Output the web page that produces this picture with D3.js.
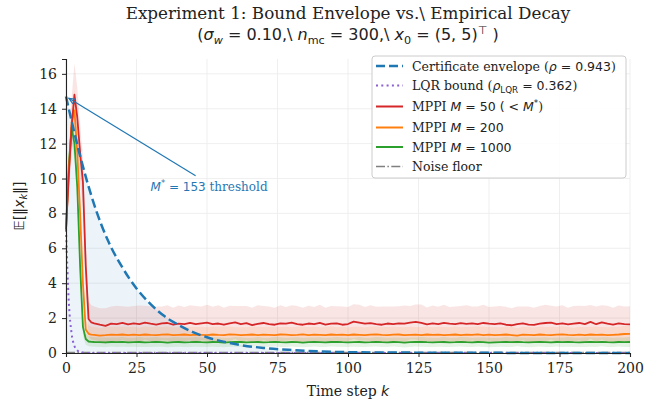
<!DOCTYPE html>
<meta charset="utf-8">
<html>
  <head>
    <title>Experiment 1</title>
    <style>
      html,body{ margin:0; padding:0; background:#fff; }
      text{ font-family: 'DejaVu Serif', serif; fill:#222; }
      .math{ font-family: 'DejaVu Sans', sans-serif; }
      .grid line{ stroke:#ebebeb; stroke-width:0.8; }
      .axis path, .axis line{ stroke:#222; }
    </style>
  </head>
  <body>
    <svg xmlns="http://www.w3.org/2000/svg"></svg>
    <script src="https://d3js.org/d3.v7.min.js"></script>
    <script type="text/javascript">
      var width = 657, height = 403;
      var margin = {left: 66, right: 27, top: 59, bottom: 50};

      // time steps: every step for the transient, every 2nd after
      var steps = d3.range(0, 11).concat(d3.range(12, 201, 2));

      var redMean = [7.07, 10.2, 13.0, 14.8, 13.5, 11.5, 9.8, 5.0, 1.95, 1.75, 1.70,
        1.62, 1.55, 1.68, 1.66, 1.72, 1.64, 1.70, 1.66, 1.74, 1.68,
        1.63, 1.70, 1.72, 1.62, 1.68, 1.66, 1.73, 1.65, 1.70, 1.74,
        1.66, 1.69, 1.62, 1.70, 1.75, 1.66, 1.71, 1.60, 1.67, 1.72,
        1.66, 1.62, 1.70, 1.68, 1.74, 1.66, 1.62, 1.69, 1.65, 1.72,
        1.63, 1.68, 1.70, 1.62, 1.66, 1.80, 1.74, 1.68, 1.71, 1.66,
        1.62, 1.69, 1.65, 1.70, 1.68, 1.74, 1.78, 1.72, 1.64, 1.70,
        1.66, 1.73, 1.68, 1.65, 1.71, 1.67, 1.70, 1.66, 1.72, 1.68,
        1.65, 1.70, 1.62, 1.59, 1.66, 1.70, 1.63, 1.61, 1.68, 1.72,
        1.74, 1.66, 1.70, 1.64, 1.68, 1.72, 1.66, 1.78, 1.65, 1.76,
        1.68, 1.63, 1.70, 1.66, 1.64];
      var redStd = [0.30, 1.2, 1.6, 1.8, 1.7, 1.6, 1.4, 1.2, 1.0, 0.98, 0.96,
        0.95, 1.02, 0.98, 1.05, 0.96, 1.01, 0.99, 1.06, 0.97, 1.00,
        1.03, 0.96, 1.01, 0.98, 1.04, 0.97, 1.00, 1.05, 0.96, 1.02,
        0.99, 1.04, 0.97, 1.01, 0.95, 1.03, 0.98, 1.00, 1.06, 0.97,
        1.01, 0.98, 1.04, 0.96, 1.00, 1.03, 0.97, 1.02, 0.99, 1.05,
        0.96, 1.01, 0.98, 1.04, 0.97, 1.00, 1.03, 0.96, 1.02, 0.99,
        1.05, 0.97, 1.01, 0.98, 1.04, 0.96, 1.00, 1.06, 0.97, 1.02,
        0.99, 1.03, 0.96, 1.01, 0.98, 1.07, 0.97, 1.00, 1.04, 0.96,
        1.02, 0.99, 1.03, 0.97, 1.00, 0.96, 1.04, 0.98, 1.01, 1.05,
        0.97, 1.00, 1.03, 0.96, 1.02, 0.99, 1.04, 0.97, 1.01, 0.98,
        1.03, 0.97, 1.02, 1.00, 1.04];

      var orangeMean = [7.07, 10.4, 13.2, 13.9, 11.5, 8.0, 4.0, 1.35, 1.10, 1.05, 1.04,
        1.00, 1.02, 1.05, 1.04, 1.06, 1.03, 1.05, 1.02, 1.06, 1.04,
        1.03, 1.05, 1.07, 1.02, 1.04, 1.06, 1.03, 1.05, 1.04, 1.02,
        1.06, 1.04, 1.03, 1.07, 1.05, 1.02, 1.04, 1.06, 1.03, 1.05,
        1.04, 1.02, 1.06, 1.05, 1.03, 1.04, 1.07, 1.03, 1.05, 1.04,
        1.02, 1.06, 1.04, 1.05, 1.03, 1.06, 1.04, 1.02, 1.05, 1.07,
        1.04, 1.03, 1.05, 1.06, 1.02, 1.04, 1.05, 1.03, 1.06, 1.04,
        1.05, 1.02, 1.04, 1.06, 1.03, 1.05, 1.04, 1.07, 1.03, 1.05,
        1.02, 1.04, 1.06, 1.03, 0.99, 1.05, 1.04, 1.02, 1.06, 1.04,
        1.03, 1.05, 1.07, 1.04, 1.02, 1.05, 1.03, 1.06, 1.04, 1.05,
        1.02, 1.04, 1.06, 1.09, 1.10];
      var orangeStd = [0.20, 0.8, 1.1, 1.2, 1.1, 1.0, 0.8, 0.55, 0.48, 0.46, 0.45,
        0.44, 0.46, 0.45, 0.47, 0.44, 0.46, 0.45, 0.43, 0.46, 0.45,
        0.47, 0.44, 0.45, 0.46, 0.43, 0.45, 0.47, 0.44, 0.46, 0.45,
        0.44, 0.46, 0.47, 0.45, 0.43, 0.46, 0.44, 0.45, 0.47, 0.44,
        0.46, 0.45, 0.43, 0.46, 0.45, 0.47, 0.44, 0.46, 0.45, 0.44,
        0.45, 0.47, 0.44, 0.46, 0.43, 0.45, 0.46, 0.44, 0.47, 0.45,
        0.44, 0.46, 0.45, 0.43, 0.46, 0.47, 0.44, 0.45, 0.46, 0.44,
        0.45, 0.47, 0.43, 0.46, 0.45, 0.44, 0.46, 0.45, 0.47, 0.44,
        0.46, 0.44, 0.45, 0.47, 0.43, 0.46, 0.45, 0.44, 0.46, 0.45,
        0.47, 0.44, 0.46, 0.45, 0.43, 0.46, 0.44, 0.45, 0.47, 0.44,
        0.46, 0.45, 0.44, 0.46, 0.45];

      var greenMean = [7.07, 10.8, 12.9, 12.0, 9.5, 5.0, 1.5, 0.80, 0.66, 0.64, 0.63,
        0.62, 0.61, 0.63, 0.62, 0.64, 0.61, 0.62, 0.63, 0.61, 0.62,
        0.64, 0.62, 0.60, 0.62, 0.63, 0.61, 0.62, 0.64, 0.62, 0.61,
        0.63, 0.62, 0.60, 0.62, 0.64, 0.63, 0.61, 0.62, 0.63, 0.61,
        0.62, 0.64, 0.62, 0.61, 0.63, 0.62, 0.60, 0.62, 0.63, 0.62,
        0.61, 0.63, 0.64, 0.62, 0.61, 0.62, 0.63, 0.61, 0.62, 0.64,
        0.62, 0.61, 0.63, 0.62, 0.60, 0.62, 0.63, 0.64, 0.62, 0.61,
        0.62, 0.63, 0.61, 0.62, 0.64, 0.62, 0.61, 0.63, 0.62, 0.60,
        0.61, 0.62, 0.63, 0.62, 0.64, 0.62, 0.61, 0.62, 0.63, 0.62,
        0.61, 0.63, 0.62, 0.64, 0.62, 0.61, 0.62, 0.63, 0.62, 0.64,
        0.62, 0.61, 0.63, 0.62, 0.63];
      var greenStd = [0.15, 0.6, 0.9, 0.9, 0.8, 0.7, 0.5, 0.32, 0.28, 0.27, 0.27,
        0.27, 0.28, 0.26, 0.27, 0.28, 0.27, 0.26, 0.28, 0.27, 0.27,
        0.28, 0.26, 0.27, 0.28, 0.27, 0.26, 0.27, 0.28, 0.27, 0.26,
        0.27, 0.28, 0.27, 0.26, 0.28, 0.27, 0.27, 0.26, 0.28, 0.27,
        0.26, 0.27, 0.28, 0.27, 0.26, 0.28, 0.27, 0.27, 0.26, 0.28,
        0.27, 0.26, 0.28, 0.27, 0.27, 0.26, 0.28, 0.27, 0.26, 0.27,
        0.28, 0.27, 0.26, 0.27, 0.28, 0.27, 0.26, 0.28, 0.27, 0.27,
        0.26, 0.28, 0.27, 0.26, 0.27, 0.28, 0.27, 0.26, 0.28, 0.27,
        0.27, 0.26, 0.28, 0.27, 0.26, 0.27, 0.28, 0.27, 0.26, 0.28,
        0.27, 0.26, 0.27, 0.28, 0.27, 0.26, 0.28, 0.27, 0.27, 0.26,
        0.28, 0.27, 0.26, 0.27, 0.28];

      // certificate envelope (rho = 0.943) read at sparse steps
      var envSteps  = [0, 5, 10, 15, 20, 25, 30, 35, 40, 45, 50, 55, 60, 70, 80, 90, 100, 125, 150, 175, 200];
      var envValues = [14.7, 11.3, 8.5, 6.4, 4.9, 3.7, 2.8, 2.1, 1.6, 1.2, 0.9, 0.68, 0.51, 0.29, 0.17, 0.09, 0.05, 0.02, 0.01, 0.0, 0.0];
      // LQR bound (rho_LQR = 0.362)
      var lqrSteps  = [0, 1, 2, 3, 4, 5, 6, 8, 200];
      var lqrValues = [7.07, 2.9, 1.1, 0.4, 0.15, 0.05, 0.02, 0.0, 0.0];
      var noiseFloor = 0.03;

      var xTicks = [0, 25, 50, 75, 100, 125, 150, 175, 200];
      var yTicks = [0, 2, 4, 6, 8, 10, 12, 14, 16];

      var blue = '#1f77b4', red = '#d62728', orange = '#ff7f0e', green = '#2ca02c',
          purple = '#8a5fd6', gray = '#808080';

      var svg = d3.select('svg').attr('width', width).attr('height', height);

      var x = d3.scaleLinear().domain([0, 200]).range([margin.left, width - margin.right]);
      var y = d3.scaleLinear().domain([0, 16.85]).range([height - margin.bottom, margin.top]);

      // grid
      var grid = svg.append('g').attr('class', 'grid');
      grid.selectAll('.gx').data(xTicks).enter().append('line')
        .attr('x1', d => x(d)).attr('x2', d => x(d))
        .attr('y1', y(0)).attr('y2', margin.top);
      grid.selectAll('.gy').data(yTicks).enter().append('line')
        .attr('x1', x(0)).attr('x2', x(200))
        .attr('y1', d => y(d)).attr('y2', d => y(d));

      var plot = svg.append('g');

      // envelope fill
      var envData = envSteps.map((k, i) => [k, envValues[i]]);
      plot.append('path').datum(envData)
        .attr('d', d3.area().x(d => x(d[0])).y0(y(0)).y1(d => y(d[1])).curve(d3.curveMonotoneX))
        .attr('fill', blue).attr('fill-opacity', 0.08);

      var series = [
        {mean: redMean, std: redStd, color: red, alpha: 0.12},
        {mean: orangeMean, std: orangeStd, color: orange, alpha: 0.12},
        {mean: greenMean, std: greenStd, color: green, alpha: 0.12}
      ];

      var band = d3.area()
        .x(d => x(d.k))
        .y0(d => y(Math.max(0, d.m - d.s)))
        .y1(d => y(d.m + d.s));
      var line = d3.line().x(d => x(d.k)).y(d => y(d.m));

      series.forEach(function(s){
        s.rows = steps.map((k, i) => ({k: k, m: s.mean[i], s: s.std[i]}));
        plot.append('path').datum(s.rows).attr('d', band)
          .attr('fill', s.color).attr('fill-opacity', s.alpha);
      });

      // noise floor
      plot.append('line')
        .attr('x1', x(0)).attr('x2', x(200)).attr('y1', y(noiseFloor)).attr('y2', y(noiseFloor))
        .attr('stroke', gray).attr('stroke-width', 1.4).attr('stroke-dasharray', '9,2.4,1.5,2.4');

      // LQR bound
      var lqrData = lqrSteps.map((k, i) => [k, lqrValues[i]]);
      plot.append('path').datum(lqrData)
        .attr('d', d3.line().x(d => x(d[0])).y(d => y(d[1])).curve(d3.curveMonotoneX))
        .attr('fill', 'none').attr('stroke', purple).attr('stroke-width', 2)
        .attr('stroke-dasharray', '2,3.3');

      // MPPI means, green first so red sits on top
      series.slice().reverse().forEach(function(s){
        plot.append('path').datum(s.rows).attr('d', line)
          .attr('fill', 'none').attr('stroke', s.color).attr('stroke-width', 1.8)
          .attr('stroke-linejoin', 'round');
      });

      // envelope dashed
      plot.append('path').datum(envData)
        .attr('d', d3.line().x(d => x(d[0])).y(d => y(d[1])).curve(d3.curveMonotoneX))
        .attr('fill', 'none').attr('stroke', blue).attr('stroke-width', 2.5)
        .attr('stroke-dasharray', '9.2,4');

      // axes
      svg.append('g').attr('class', 'axis')
        .attr('transform', 'translate(0,' + y(0) + ')')
        .call(d3.axisBottom(x).tickValues(xTicks).tickSize(4).tickPadding(6));
      svg.append('g').attr('class', 'axis')
        .attr('transform', 'translate(' + x(0) + ',0)')
        .call(d3.axisLeft(y).tickValues(yTicks).tickSize(4).tickPadding(5));
      svg.selectAll('.axis text').style('font-family', "'DejaVu Serif', serif")
        .style('font-size', '14px').attr('fill', '#222');
      svg.selectAll('.axis path').attr('stroke-width', 1.1);
      svg.selectAll('.axis line').attr('stroke-width', 1);

      // helper for mathtext-like runs
      function mathText(sel, parts, size){
        var shift = 0;
        parts.forEach(function(p){
          var t = sel.append('tspan').text(p.t);
          var target = p.sub ? size * 0.22 : (p.sup ? -size * 0.38 : 0);
          t.attr('dy', target - shift);
          shift = target;
          if (p.sub || p.sup) t.style('font-size', (size * 0.7) + 'px');
          if (p.it) t.style('font-style', 'italic');
          if (p.serif) t.style('font-family', "'DejaVu Serif', serif");
          if (p.sans) t.style('font-family', "'DejaVu Sans', sans-serif");
        });
      }

      // title
      svg.append('text').attr('x', x(100)).attr('y', 19).attr('text-anchor', 'middle')
        .style('font-size', '16.8px')
        .text('Experiment 1: Bound Envelope vs.\\ Empirical Decay');
      var t2 = svg.append('text').attr('class', 'math').attr('x', x(100)).attr('y', 40)
        .attr('text-anchor', 'middle').style('font-size', '16px');
      mathText(t2, [
        {t: '('}, {t: 'σ', it: true}, {t: 'w', it: true, sub: true},
        {t: ' = 0.10,\\ '}, {t: 'n', it: true}, {t: 'mc', sub: true},
        {t: ' = 300,\\ '}, {t: 'x', it: true}, {t: '0', sub: true},
        {t: ' = (5, 5)'}, {t: '⊤', sup: true}, {t: ' )'}
      ], 16);

      // axis labels
      var xl = svg.append('text').attr('x', x(100)).attr('y', 396).attr('text-anchor', 'middle')
        .style('font-size', '14px');
      mathText(xl, [{t: 'Time step ', serif: true}, {t: 'k', it: true, sans: true}], 14);

      var yl = svg.append('text').attr('class', 'math')
        .attr('transform', 'translate(24,' + ((y(0) + y(16.85)) / 2) + ') rotate(-90)')
        .attr('text-anchor', 'middle').style('font-size', '14px');
      mathText(yl, [{t: '𝔼[‖'}, {t: 'x', it: true}, {t: 'k', it: true, sub: true}, {t: '‖]'}], 14);

      // annotation
      var annoTip = [1, 14.6], annoText = [30, 9.3];
      var ax0 = x(annoText[0]) + 45, ay0 = y(annoText[1]) - 15;
      var ax1 = x(annoTip[0]), ay1 = y(annoTip[1]);
      svg.append('line').attr('x1', ax0).attr('y1', ay0).attr('x2', ax1).attr('y2', ay1)
        .attr('stroke', blue).attr('stroke-width', 1.2);
      var ang = Math.atan2(ay0 - ay1, ax0 - ax1);
      var head = [[ax1 + 7 * Math.cos(ang - 0.4), ay1 + 7 * Math.sin(ang - 0.4)], [ax1, ay1],
                  [ax1 + 7 * Math.cos(ang + 0.4), ay1 + 7 * Math.sin(ang + 0.4)]];
      svg.append('path').attr('d', d3.line()(head)).attr('fill', 'none')
        .attr('stroke', blue).attr('stroke-width', 1.2);
      var at = svg.append('text').attr('x', x(annoText[0])).attr('y', y(annoText[1]))
        .style('font-size', '12px');
      mathText(at, [{t: 'M', it: true, sans: true}, {t: '*', sup: true, sans: true},
        {t: ' = 153', sans: true}, {t: ' threshold', serif: true}], 12);
      at.selectAll('tspan').style('fill', blue);

      // legend
      var lg = svg.append('g').attr('transform', 'translate(372,56)');
      lg.append('rect').attr('width', 254).attr('height', 122).attr('rx', 3)
        .attr('fill', '#fff').attr('fill-opacity', 0.85).attr('stroke', '#cccccc');
      var legendItems = [
        {color: blue, dash: '9,4', w: 2.5, parts: [{t: 'Certificate envelope (', serif: true}, {t: 'ρ', it: true}, {t: ' = 0.943'}, {t: ')', serif: true}]},
        {color: purple, dash: '2,3.3', w: 2, parts: [{t: 'LQR bound (', serif: true}, {t: 'ρ', it: true}, {t: 'LQR', sub: true}, {t: ' = 0.362'}, {t: ')', serif: true}]},
        {color: red, dash: null, w: 2, parts: [{t: 'MPPI ', serif: true}, {t: 'M', it: true}, {t: ' = 50 ( < '}, {t: 'M', it: true}, {t: '*', sup: true}, {t: ')', serif: true}]},
        {color: orange, dash: null, w: 2, parts: [{t: 'MPPI ', serif: true}, {t: 'M', it: true}, {t: ' = 200'}]},
        {color: green, dash: null, w: 2, parts: [{t: 'MPPI ', serif: true}, {t: 'M', it: true}, {t: ' = 1000'}]},
        {color: gray, dash: '9,2.4,1.5,2.4', w: 1.4, parts: [{t: 'Noise floor', serif: true}]}
      ];
      var rowY = [10, 29.5, 50.5, 71.5, 91, 110.5];
      legendItems.forEach(function(it, i){
        lg.append('line').attr('x1', 4).attr('x2', 31).attr('y1', rowY[i]).attr('y2', rowY[i])
          .attr('stroke', it.color).attr('stroke-width', it.w)
          .attr('stroke-dasharray', it.dash);
        var tx = lg.append('text').attr('class', 'math').attr('x', 40).attr('y', rowY[i] + 4.5)
          .style('font-size', '12.5px');
        mathText(tx, it.parts, 12.5);
      });
    </script>
  </body>
</html>
